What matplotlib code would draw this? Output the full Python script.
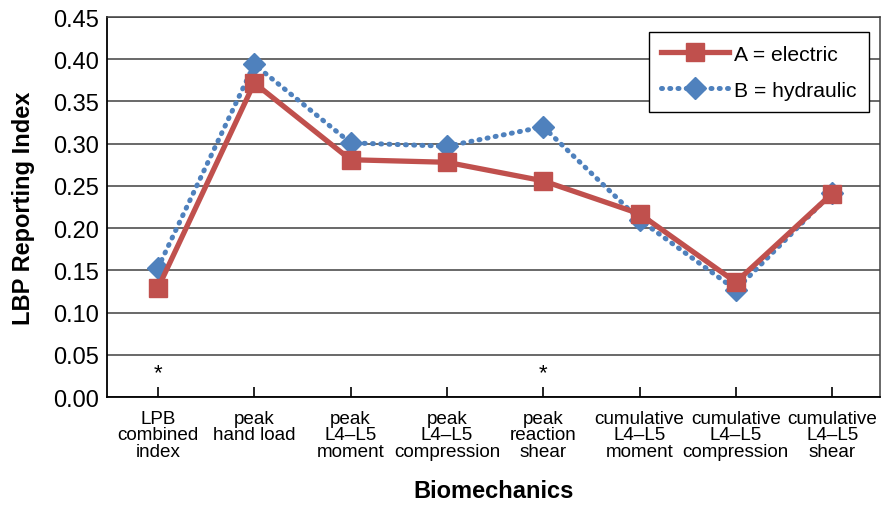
import matplotlib
matplotlib.use("Agg")
import matplotlib.pyplot as plt

plt.rcParams["font.family"] = ["Liberation Sans", "DejaVu Sans"]

# --- data -------------------------------------------------------------------
categories = [
    "LPB\ncombined\nindex",
    "peak\nhand load",
    "peak\nL4\u2013L5\nmoment",
    "peak\nL4\u2013L5\ncompression",
    "peak\nreaction\nshear",
    "cumulative\nL4\u2013L5\nmoment",
    "cumulative\nL4\u2013L5\ncompression",
    "cumulative\nL4\u2013L5\nshear",
]
electric = [0.129, 0.372, 0.281, 0.278, 0.256, 0.217, 0.136, 0.241]
hydraulic = [0.153, 0.394, 0.301, 0.297, 0.320, 0.210, 0.127, 0.242]
signif_idx = [0, 4]        # categories marked with an asterisk
signif_y = 0.029
yticks = [0.00, 0.05, 0.10, 0.15, 0.20, 0.25, 0.30, 0.35, 0.40, 0.45]

red = "#C0504D"
blue = "#4F81BD"

# --- figure -----------------------------------------------------------------
fig = plt.figure(figsize=(8.91, 5.10), dpi=100)
ax = fig.add_axes([0.120, 0.2196, 0.868, 0.745])

x = list(range(len(categories)))
ax.plot(x, hydraulic, color=blue, lw=3.6, linestyle=(0, (0.2, 1.45)),
        dash_capstyle="round", marker="D", markersize=11,
        markerfacecolor=blue, markeredgecolor=blue, label="B = hydraulic", zorder=3)
ax.plot(x, electric, color=red, lw=3.8, marker="s", markersize=13,
        markerfacecolor=red, markeredgecolor=red, label="A = electric", zorder=4)

for i in signif_idx:
    ax.text(i, signif_y, "*", ha="center", va="center", fontsize=16)

ax.set_xlim(-0.53, 7.5)
ax.set_ylim(0, 0.45)
ax.set_yticks(yticks)
ax.set_yticklabels([f"{v:.2f}" for v in yticks], fontsize=17)
ax.set_xticks(x)
ax.set_xticklabels(categories, fontsize=13.6, linespacing=0.98)
ax.tick_params(axis="x", direction="in", length=7, width=1.2, pad=9, color="black")
ax.tick_params(axis="y", length=0, pad=6)

ax.grid(axis="y", color="#404040", lw=1.1)
ax.set_axisbelow(True)
for side in ["top", "right"]:
    ax.spines[side].set_color("#404040")
    ax.spines[side].set_linewidth(1.1)
ax.spines["left"].set_color("black")
ax.spines["bottom"].set_color("black")
ax.spines["left"].set_linewidth(1.3)
ax.spines["bottom"].set_linewidth(1.3)

ax.set_ylabel("LBP Reporting Index", fontsize=17, fontweight="bold", labelpad=13)
ax.set_xlabel("Biomechanics", fontsize=17, fontweight="bold", labelpad=14)

handles, labels = ax.get_legend_handles_labels()
leg = ax.legend(handles[::-1], labels[::-1], loc="upper right",
                bbox_to_anchor=(0.986, 0.9605), fontsize=15.2, fancybox=False,
                framealpha=1, edgecolor="black", handlelength=3.2,
                borderpad=0.6, labelspacing=0.8, handletextpad=0.25,
                borderaxespad=0.0)
leg.get_frame().set_linewidth(1.0)

fig.savefig("out.png", dpi=100)
